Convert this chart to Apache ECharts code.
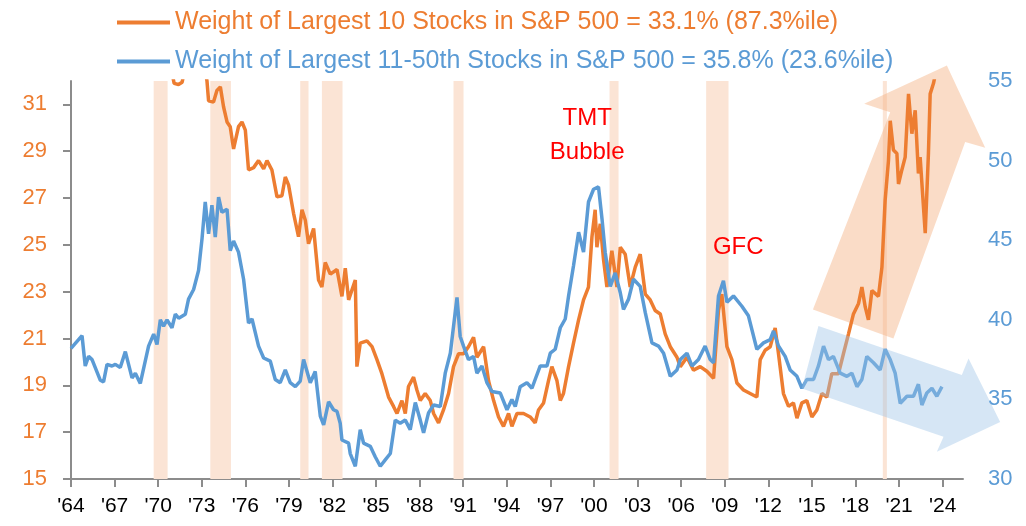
<!DOCTYPE html>
<html>
<head>
<meta charset="utf-8">
<script src="https://cdn.jsdelivr.net/npm/echarts@6/dist/echarts.min.js"></script>
<style>
  html, body { margin: 0; padding: 0; background: #fff; }
  #chart { width: 1026px; height: 526px; }
</style>
</head>
<body>
<div id="chart"></div>
<script>
// weight of the 10 largest stocks (left axis, %), [year, value]
const top10 = [
  [1970.0, 33.6], [1970.5, 33.0], [1970.9, 32.5], [1971.1, 31.9], [1971.4, 31.85], [1971.65, 31.95],
  [1971.9, 32.7], [1972.4, 33.4], [1972.9, 33.0], [1973.2, 32.6],
  [1973.36, 32.0], [1973.47, 31.15], [1973.81, 31.1], [1974.05, 31.6], [1974.28, 31.75], [1974.5, 30.9],
  [1974.74, 30.25], [1974.96, 30.05], [1975.19, 29.1], [1975.53, 30.05], [1975.77, 30.25], [1976.0, 29.9],
  [1976.22, 28.2], [1976.57, 28.3], [1976.91, 28.6], [1977.26, 28.25], [1977.49, 28.6], [1977.83, 28.2],
  [1978.18, 27.05], [1978.52, 27.1], [1978.75, 27.9], [1978.98, 27.55], [1979.32, 26.35], [1979.66, 25.35],
  [1979.9, 26.5], [1980.13, 26.05], [1980.35, 25.05], [1980.7, 25.7], [1981.04, 23.5], [1981.27, 23.2],
  [1981.5, 24.25], [1981.85, 23.75], [1982.31, 23.95], [1982.65, 22.8], [1982.88, 24.0], [1983.11, 22.65],
  [1983.57, 23.5], [1983.68, 19.8], [1983.91, 20.8], [1984.37, 20.9], [1984.72, 20.65], [1985.06, 20.1],
  [1985.4, 19.5], [1985.86, 18.5], [1986.2, 18.1], [1986.44, 17.8], [1986.78, 18.35], [1987.01, 17.8],
  [1987.23, 18.95], [1987.58, 19.35], [1987.81, 18.8], [1988.04, 18.35], [1988.38, 18.65], [1988.73, 18.35],
  [1988.96, 17.8], [1989.3, 17.4], [1989.64, 17.95], [1989.99, 18.65], [1990.33, 19.8], [1990.68, 20.35],
  [1991.02, 20.35], [1991.36, 20.65], [1991.71, 21.05], [1991.94, 20.2], [1992.4, 20.65], [1992.74, 19.2],
  [1993.09, 18.35], [1993.43, 17.65], [1993.77, 17.25], [1994.12, 17.8], [1994.35, 17.25], [1994.7, 17.8],
  [1995.15, 17.8], [1995.61, 17.65], [1995.95, 17.4], [1996.18, 17.95], [1996.53, 18.25], [1996.87, 19.2],
  [1997.1, 19.8], [1997.45, 19.2], [1997.68, 18.35], [1997.9, 18.65], [1998.25, 19.8], [1998.59, 20.8],
  [1998.94, 21.8], [1999.28, 22.65], [1999.62, 23.2], [1999.86, 25.35], [2000.08, 26.5], [2000.2, 24.9],
  [2000.43, 25.9], [2000.66, 24.35], [2000.89, 23.2], [2001.23, 24.75], [2001.58, 23.2], [2001.81, 24.9],
  [2002.15, 24.6], [2002.49, 23.2], [2002.84, 24.05], [2003.18, 24.6], [2003.53, 22.9], [2003.87, 22.65],
  [2004.21, 22.2], [2004.56, 22.05], [2004.9, 21.2], [2005.25, 20.65], [2005.71, 20.2], [2005.94, 19.8],
  [2006.4, 20.2], [2006.85, 19.65], [2007.31, 19.8], [2007.77, 19.6], [2008.23, 19.3], [2008.57, 22.2],
  [2008.8, 22.9], [2009.15, 20.65], [2009.49, 20.1], [2009.84, 19.1], [2010.29, 18.8], [2010.75, 18.65],
  [2011.21, 18.5], [2011.44, 20.1], [2011.78, 20.5], [2012.13, 20.65], [2012.47, 21.45], [2012.7, 20.35],
  [2013.04, 18.65], [2013.39, 18.1], [2013.73, 18.25], [2013.97, 17.6], [2014.31, 18.25], [2014.65, 18.35],
  [2015.0, 17.65], [2015.34, 17.95], [2015.69, 18.65], [2016.03, 18.5], [2016.37, 19.5], [2016.83, 19.5],
  [2017.17, 20.35], [2017.52, 21.2], [2017.86, 22.05], [2018.21, 22.5], [2018.44, 23.2], [2018.67, 22.35],
  [2018.89, 21.8], [2019.13, 23.05], [2019.58, 22.8], [2019.82, 24.05], [2020.04, 26.9], [2020.27, 28.6],
  [2020.39, 30.3], [2020.61, 29.05], [2020.85, 28.9], [2020.96, 27.6], [2021.19, 28.2], [2021.42, 28.75],
  [2021.65, 31.45], [2021.88, 29.75], [2022.11, 30.75], [2022.33, 28.05], [2022.45, 28.75], [2022.8, 25.5],
  [2023.02, 28.9], [2023.14, 31.45], [2023.37, 31.9], [2023.6, 32.6], [2023.95, 33.1]
];

// weight of the 11th-50th largest stocks (right axis, %), [year, value]
const next40 = [
  [1964.0, 38.2], [1964.76, 39.0], [1964.98, 37.1], [1965.21, 37.7], [1965.45, 37.5], [1966.02, 36.2],
  [1966.24, 36.1], [1966.48, 37.2], [1966.82, 37.1], [1967.05, 37.2], [1967.39, 37.0], [1967.74, 38.0],
  [1968.2, 36.35], [1968.43, 36.65], [1968.77, 36.0], [1969.34, 38.35], [1969.69, 39.1], [1969.92, 38.45],
  [1970.15, 40.0], [1970.37, 39.6], [1970.61, 40.0], [1970.95, 39.5], [1971.18, 40.35], [1971.41, 40.1],
  [1971.87, 40.35], [1972.09, 41.3], [1972.44, 41.9], [1972.78, 43.1], [1973.02, 45.1], [1973.24, 47.4],
  [1973.47, 45.4], [1973.7, 47.2], [1973.93, 45.2], [1974.16, 47.7], [1974.39, 46.75], [1974.74, 46.95],
  [1974.96, 44.35], [1975.19, 44.95], [1975.53, 44.25], [1975.88, 42.55], [1976.22, 39.8], [1976.46, 40.05],
  [1976.91, 38.35], [1977.26, 37.6], [1977.72, 37.4], [1978.06, 36.25], [1978.4, 36.05], [1978.75, 36.85],
  [1979.09, 36.05], [1979.44, 35.8], [1979.78, 36.15], [1980.01, 37.5], [1980.47, 36.05], [1980.81, 36.75],
  [1981.16, 33.95], [1981.39, 33.4], [1981.73, 34.85], [1982.07, 34.35], [1982.31, 34.25], [1982.53, 33.5],
  [1982.65, 32.45], [1983.11, 32.25], [1983.22, 31.6], [1983.57, 30.8], [1983.91, 33.1], [1984.14, 32.25],
  [1984.6, 32.05], [1984.94, 31.4], [1985.29, 30.8], [1985.63, 31.2], [1985.98, 31.6], [1986.32, 33.7],
  [1986.66, 33.5], [1987.01, 33.7], [1987.35, 33.1], [1987.7, 34.8], [1988.04, 33.7], [1988.27, 32.9],
  [1988.61, 34.15], [1988.96, 34.65], [1989.42, 34.55], [1989.76, 36.65], [1990.11, 37.9], [1990.57, 41.4],
  [1990.79, 38.95], [1991.02, 38.35], [1991.36, 37.5], [1991.71, 37.7], [1991.94, 36.65], [1992.29, 37.1],
  [1992.63, 36.05], [1992.97, 35.5], [1993.55, 35.4], [1994.01, 34.35], [1994.35, 35.0], [1994.58, 34.55],
  [1994.92, 35.8], [1995.38, 36.05], [1995.73, 35.7], [1995.95, 36.25], [1996.3, 37.1], [1996.76, 37.1],
  [1996.99, 37.9], [1997.33, 38.15], [1997.68, 39.5], [1998.02, 40.05], [1998.25, 41.5], [1998.59, 43.4],
  [1998.94, 45.5], [1999.28, 44.25], [1999.62, 47.4], [1999.97, 48.2], [2000.31, 48.35], [2000.55, 46.35],
  [2000.77, 44.25], [2001.12, 42.1], [2001.46, 42.95], [2001.81, 41.7], [2002.03, 40.65], [2002.38, 41.3],
  [2002.72, 42.55], [2003.18, 42.1], [2003.53, 40.45], [2003.99, 38.55], [2004.44, 38.35], [2004.79, 37.9],
  [2005.25, 36.45], [2005.71, 36.85], [2005.94, 37.5], [2006.4, 37.9], [2006.74, 37.1], [2007.19, 37.5],
  [2007.65, 38.35], [2008.0, 37.5], [2008.23, 37.3], [2008.57, 41.5], [2008.91, 42.45], [2009.15, 41.1],
  [2009.6, 41.5], [2010.18, 40.85], [2010.63, 40.25], [2011.21, 38.15], [2011.67, 38.55], [2012.13, 38.75],
  [2012.36, 39.3], [2012.7, 38.35], [2013.16, 37.7], [2013.5, 36.85], [2013.97, 36.45], [2014.31, 35.7],
  [2014.65, 36.25], [2015.11, 36.25], [2015.45, 37.1], [2015.8, 38.35], [2016.14, 37.5], [2016.48, 37.7],
  [2016.95, 36.65], [2017.41, 36.45], [2017.75, 36.65], [2018.1, 35.8], [2018.44, 36.25], [2018.78, 37.7],
  [2019.24, 37.3], [2019.7, 36.85], [2020.04, 38.15], [2020.39, 37.5], [2020.73, 36.65], [2021.08, 34.75],
  [2021.54, 35.2], [2021.99, 35.2], [2022.33, 35.95], [2022.57, 34.65], [2022.91, 35.4], [2023.26, 35.7],
  [2023.6, 35.2], [2023.95, 35.8]
];

// recession shading, [start, end] in years
const recessions = [
  [1969.69, 1970.65], [1973.59, 1975.01], [1979.78, 1980.35], [1981.27, 1982.69],
  [1990.33, 1991.02], [2001.07, 2001.69], [2007.72, 2009.26], [2019.88, 2020.16]
];

const xTickYears = [1964, 1967, 1970, 1973, 1976, 1979, 1982, 1985, 1988, 1991, 1994,
  1997, 2000, 2003, 2006, 2009, 2012, 2015, 2018, 2021, 2024];
const leftTicks = [15, 17, 19, 21, 23, 25, 27, 29, 31];
const rightTicks = [30, 35, 40, 45, 50, 55];

const nameTop10 = 'Weight of Largest 10 Stocks in S&P 500 = 33.1% (87.3%ile)';
const nameNext40 = 'Weight of Largest 11-50th Stocks in S&P 500 = 35.8% (23.6%ile)';

// annotation shapes in [year, left-axis value]
const arrowUp = [[2015.07, 22.24], [2020.61, 21.0], [2025.55, 29.39], [2026.93, 29.15],
  [2024.29, 32.66], [2018.6, 31.03], [2020.39, 30.67]];
const arrowDown = [[2015.45, 21.54], [2025.32, 19.44], [2025.78, 20.15], [2027.96, 17.44],
  [2023.6, 16.16], [2024.06, 16.8], [2014.31, 18.87]];
const notes = [
  { text: 'TMT\nBubble', at: [1999.53, 29.68] },
  { text: 'GFC', at: [2009.93, 24.9] }
];

const ORANGE = '#ED7D31';
const BLUE = '#5B9BD5';
const FONT = '"Liberation Sans", Arial, sans-serif';
const AXIS_GRAY = '#8c8c8c';

let myChart = echarts.init(document.getElementById('chart'));

var option = {
  backgroundColor: '#ffffff',
  animation: false,
  grid: { left: 71, right: 63, top: 81, bottom: 47 },
  legend: {
    orient: 'vertical',
    left: 117,
    top: 10,
    padding: 0,
    icon: 'rect',
    itemWidth: 53,
    itemHeight: 4,
    itemGap: 14,
    textStyle: { fontSize: 25, fontFamily: FONT },
    data: [
      { name: nameTop10, textStyle: { color: ORANGE } },
      { name: nameNext40, textStyle: { color: BLUE } }
    ]
  },
  xAxis: {
    type: 'value',
    min: 1964,
    max: 2025.4,
    splitLine: { show: false },
    axisLine: { show: true, onZero: false, lineStyle: { color: AXIS_GRAY, width: 2 } },
    axisTick: { show: true, customValues: xTickYears, length: 8, lineStyle: { color: AXIS_GRAY, width: 2 } },
    axisLabel: {
      customValues: xTickYears,
      margin: 17,
      fontSize: 21,
      fontFamily: FONT,
      color: '#000',
      formatter: function (v) { return "'" + String(Math.round(v)).slice(2) }
    }
  },
  yAxis: [
    {
      type: 'value',
      min: 15,
      max: 32,
      splitLine: { show: false },
      axisLine: { show: true, lineStyle: { color: AXIS_GRAY, width: 2 } },
      axisTick: { show: true, customValues: leftTicks, length: 8, lineStyle: { color: AXIS_GRAY, width: 2 } },
      axisLabel: { customValues: leftTicks, margin: 24, fontSize: 22, fontFamily: FONT, color: ORANGE }
    },
    {
      type: 'value',
      position: 'right',
      min: 30,
      max: 55,
      interval: 5,
      splitLine: { show: false },
      axisLine: { show: false },
      axisTick: { show: false },
      axisLabel: { customValues: rightTicks, margin: 25, fontSize: 22, fontFamily: FONT, color: BLUE }
    }
  ],
  series: [
    {
      name: nameTop10,
      type: 'line',
      yAxisIndex: 0,
      data: top10,
      symbol: 'none',
      clip: true,
      lineStyle: { color: ORANGE, width: 3.5 },
      itemStyle: { color: ORANGE }
    },
    {
      name: nameNext40,
      type: 'line',
      yAxisIndex: 1,
      data: next40,
      symbol: 'none',
      clip: true,
      lineStyle: { color: BLUE, width: 3.5 },
      itemStyle: { color: BLUE },
      markArea: {
        silent: true,
        itemStyle: { color: '#FBE4D5' },
        data: recessions.map(function (r) { return [{ xAxis: r[0] }, { xAxis: r[1] }] })
      }
    }
  ]
};

myChart.setOption(option);

// arrows and notes placed through the axes
function toPx(p) {
  return myChart.convertToPixel({ xAxisIndex: 0, yAxisIndex: 0 }, p);
}

myChart.setOption({
  graphic: [
    {
      type: 'polygon',
      z: 1,
      silent: true,
      shape: { points: arrowUp.map(toPx) },
      style: { fill: 'rgba(244,177,131,0.45)' }
    },
    {
      type: 'polygon',
      z: 10,
      silent: true,
      shape: { points: arrowDown.map(toPx) },
      style: { fill: 'rgba(157,195,230,0.42)' }
    }
  ].concat(notes.map(function (n) {
    let p = toPx(n.at);
    return {
      type: 'text',
      z: 11,
      x: p[0],
      y: p[1],
      style: {
        text: n.text,
        fill: '#FF0000',
        fontSize: 24,
        fontFamily: FONT,
        lineHeight: 34,
        align: 'center',
        verticalAlign: 'middle'
      }
    }
  }))
});
</script>
</body>
</html>
